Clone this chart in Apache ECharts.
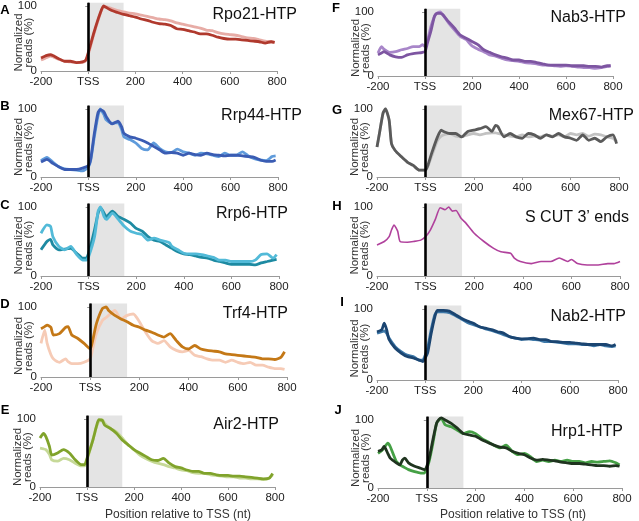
<!DOCTYPE html>
<html><head><meta charset="utf-8">
<script src="https://cdn.jsdelivr.net/npm/echarts@6/dist/echarts.min.js"></script>
<style>html,body{margin:0;padding:0;background:#fff}#c{width:639px;height:521px}</style>
</head><body><div id="c"></div>
<script>
// ---- tick labels ----
const xTickValues = [-200, 0, 200, 400, 600, 800];
const xTickLabels = ['-200', 'TSS', '200', '400', '600', '800'];
const yTickValues = [0, 100];
const shadeRange = [0, 150];
const xAxisTitle = 'Position relative to TSS (nt)';
const yAxisTitle = ['Normalized', 'reads (%)'];

// ---- A: Rpo21-HTP ----
const posA = [-200,-175,-160,-150,-125,-100,-75,-50,-25,-10,0,25,50,65,75,100,125,150,175,200,225,250,275,300,325,350,375,400,425,450,475,500,525,550,575,600,625,650,675,700,725,750,775,790];
const rpo21Dark = [20,24,25,24,19,15,15,13,14,17,28,60,88,100,98,93,90,87,85,83,80,78,75,73,72,70,65,64,62,60,57,57,55,52,50,49,49,48,47,46,45,43,45,44];
const rpo21Light = [17,21,23,22,18,15,14,13,13,16,25,58,87,99,99,96,93,91,89,88,86,84,82,80,79,77,74,72,70,68,66,63,62,59,57,56,55,53,51,50,48,46,45,44];

// ---- B: Rrp44-HTP ----
const posB = [-200,-175,-150,-125,-100,-75,-50,-25,0,10,25,40,50,65,75,100,125,140,150,175,200,225,250,275,300,325,350,375,400,425,450,475,500,525,550,575,600,625,650,675,700,725,750,775,790];
const rrp44Dark = [22,26,20,15,11,11,11,13,17,27,64,94,99,96,89,78,82,74,64,59,57,54,50,45,40,35,36,35,32,35,33,32,35,33,32,31,32,32,31,30,29,25,23,23,25];
const rrp44Light = [24,29,22,15,12,11,10,9,15,25,59,89,100,92,84,79,80,70,59,55,50,42,40,50,42,37,36,41,37,35,32,35,34,32,30,35,32,32,37,31,27,25,24,30,31];

// ---- C: Rrp6-HTP ----
const posC = [-200,-175,-160,-150,-125,-100,-75,-50,-25,-10,0,25,40,50,65,75,100,125,150,175,200,225,250,275,300,325,340,350,375,400,425,450,475,500,525,550,575,600,625,650,675,700,725,750,775,790];
const rrp6Dark = [38,50,53,45,38,39,40,33,26,26,33,67,91,99,91,86,94,86,82,77,69,65,57,52,50,45,42,40,35,32,31,29,27,26,23,21,19,17,17,17,17,16,19,21,23,24];
const rrp6Light = [62,74,72,57,43,38,43,31,23,23,28,57,94,100,86,82,91,82,72,65,62,60,52,55,52,50,48,43,38,33,32,32,31,29,27,23,23,21,21,21,21,23,31,32,26,31];

// ---- D: Trf4-HTP ----
const posD = [-200,-185,-175,-160,-150,-125,-100,-90,-75,-50,-25,0,10,25,50,65,75,100,125,150,175,200,225,250,275,300,325,350,375,400,425,450,475,500,525,550,575,600,625,650,675,700,725,750,775,790];
const trf4Dark = [69,72,74,71,60,62,71,72,60,55,48,40,52,76,98,100,95,88,83,79,74,71,67,64,60,57,62,52,43,40,45,40,38,37,36,33,32,31,30,29,28,26,26,25,28,36];
const trf4Light = [48,67,48,32,26,21,26,22,19,19,21,26,40,62,81,85,88,95,83,88,90,79,64,52,48,52,43,38,36,38,31,29,26,24,24,21,24,21,19,21,17,17,14,12,12,11];

// ---- E: Air2-HTP ----
const posE = [-200,-185,-175,-160,-150,-125,-100,-75,-50,-25,-10,0,25,40,50,65,75,100,125,150,175,200,225,250,275,300,325,350,375,400,425,450,475,500,525,550,575,600,625,650,675,700,725,750,775,790];
const air2Dark = [72,79,74,60,47,50,55,50,40,33,33,42,69,89,99,98,91,86,79,69,62,55,50,45,40,39,42,35,30,28,25,23,23,20,20,18,17,17,16,16,15,14,13,12,13,20];
const air2Light = [57,56,55,48,40,38,42,40,35,31,31,40,69,88,96,99,94,86,81,72,62,55,47,42,38,35,33,30,28,25,24,21,20,20,18,17,16,15,15,13,13,12,12,11,13,18];

// ---- F: Nab3-HTP ----
const posF = [-200,-185,-175,-150,-125,-100,-75,-50,-25,-10,0,10,25,40,50,65,75,100,125,150,175,200,225,250,275,300,325,350,375,400,425,450,475,500,525,550,575,600,625,650,675,700,725,750,775,790];
const nab3Dark = [33,36,38,33,30,29,33,35,36,37,38,51,70,93,98,98,96,85,75,64,59,54,49,41,37,33,30,28,25,25,23,23,21,19,17,17,17,17,16,16,16,15,15,14,16,16];
const nab3Light = [36,46,42,37,38,41,43,46,46,49,46,55,77,93,98,100,96,83,72,62,57,47,42,38,33,31,28,25,24,23,21,20,19,17,17,16,15,16,15,14,13,13,12,13,15,16];

// ---- G: Mex67-HTP ----
const posG = [-200,-190,-175,-165,-150,-140,-125,-100,-75,-50,-25,0,10,25,50,65,75,100,125,150,175,200,225,250,275,290,300,325,350,375,400,425,450,475,500,525,550,575,600,625,650,675,700,725,750,775,790];
const mex67Dark = [44,64,94,100,84,49,39,30,22,17,10,10,17,34,59,69,67,64,64,59,67,69,71,74,67,76,74,59,64,59,57,64,62,57,62,59,64,59,57,54,62,54,57,52,59,62,49];
const mex67Light = [44,64,94,100,84,49,39,30,22,17,10,10,15,30,54,60,62,64,60,59,62,64,62,64,65,65,64,62,60,59,62,59,60,59,62,60,62,59,64,62,64,60,63,62,59,57,52];

// ---- H: S CUT 3' ends ----
const posH = [-200,-170,-150,-140,-130,-115,-105,-75,-50,-20,0,20,40,60,80,95,110,125,145,165,200,240,280,310,350,365,390,435,475,515,550,585,600,625,665,710,750,775,800];
const scutEnds = [45,50,57,67,74,65,50,49,50,52,57,67,82,99,96,100,94,95,84,77,62,50,40,35,33,26,21,18,21,21,26,21,24,18,16,16,18,18,21];

// ---- I: Nab2-HTP ----
const posI = [-200,-180,-170,-160,-150,-125,-100,-75,-50,-25,-10,0,10,25,40,50,75,100,125,150,175,200,225,250,275,300,325,350,375,400,425,450,475,500,525,550,575,600,625,650,675,700,725,750,775,790];
const nab2Dark = [68,71,80,71,57,45,38,33,31,28,26,31,38,66,89,98,98,97,92,87,83,80,75,73,71,68,66,61,59,58,58,59,57,57,54,54,53,53,52,51,50,50,50,50,48,50];
const nab2Light = [66,68,69,66,59,47,40,35,33,28,28,35,45,71,92,96,96,95,91,86,81,78,75,72,70,67,64,61,59,57,58,57,56,54,54,53,52,51,51,50,50,48,50,48,47,48];

// ---- J: Hrp1-HTP ----
const posJ = [-200,-185,-175,-160,-150,-125,-110,-100,-90,-75,-50,-25,-10,0,10,25,40,50,60,75,100,125,150,175,200,225,250,275,300,325,350,375,400,425,450,475,500,525,550,575,600,625,650,675,700,725,750,775,790];
const hrp1Dark = [54,56,61,51,44,37,34,41,44,37,32,29,27,32,44,71,95,101,103,100,95,88,80,78,76,71,67,63,60,59,54,51,49,44,41,42,41,40,38,37,36,36,35,34,33,33,32,33,32];
const hrp1Light = [51,55,59,66,61,39,34,32,30,27,24,22,22,29,40,66,95,100,102,93,90,85,80,83,80,73,68,63,59,63,54,49,51,46,39,41,39,41,39,41,39,39,37,39,38,39,40,37,34];

// ---- layout (positions/styles only) ----
const panels = [
  {letter:'A', title:'Rpo21-HTP', pos:posA, lines:[[rpo21Light,'#e7aca6'],[rpo21Dark,'#b0392d']], left:41, width:236, y100:6, y0:71, lx:5, ly:10, tx:297, ty:15},
  {letter:'B', title:'Rrp44-HTP', pos:posB, lines:[[rrp44Light,'#5f9bdb'],[rrp44Dark,'#3a5cb3']], left:41, width:237, y100:109, y0:177, lx:5, ly:106, tx:302, ty:116},
  {letter:'C', title:'Rrp6-HTP', pos:posC, lines:[[rrp6Dark,'#1d8aa2'],[rrp6Light,'#52bad8']], left:41, width:238, y100:207, y0:276, lx:5, ly:205, tx:288, ty:214},
  {letter:'D', title:'Trf4-HTP', pos:posD, lines:[[trf4Light,'#f6cbb6'],[trf4Dark,'#c47816']], left:41, width:246, y100:307, y0:377, lx:5, ly:304, tx:288, ty:314},
  {letter:'E', title:'Air2-HTP', pos:posE, lines:[[air2Light,'#c6d998'],[air2Dark,'#80a32b']], left:40, width:235, y100:419, y0:487, lx:5, ly:410, tx:279, ty:425},
  {letter:'F', title:'Nab3-HTP', pos:posF, lines:[[nab3Light,'#a886c9'],[nab3Dark,'#7d55a1']], left:378, width:235, y100:12, y0:76, lx:336, ly:8, tx:626, ty:18},
  {letter:'G', title:'Mex67-HTP', pos:posG, lines:[[mex67Light,'#c2c2c2'],[mex67Dark,'#5a5a5a']], left:377, width:242, y100:109, y0:177, lx:337, ly:110, tx:634, ty:116},
  {letter:'H', title:'S CUT 3\u2019 ends', pos:posH, lines:[[scutEnds,'#b0419c']], lw:1.6, left:377, width:243, y100:207, y0:276, lx:337, ly:206, tx:629, ty:218},
  {letter:'I', title:'Nab2-HTP', pos:posI, lines:[[nab2Light,'#3d78a8'],[nab2Dark,'#1b4571']], left:377, width:241, y100:309, y0:380, lx:342, ly:302, tx:626, ty:317},
  {letter:'J', title:'Hrp1-HTP', pos:posJ, lines:[[hrp1Light,'#45a045'],[hrp1Dark,'#1f341f']], left:378, width:244, y100:420, y0:488, lx:338, ly:410, tx:623, ty:432}
];

const YMAX = 105;
const font = 'Liberation Sans, Arial, sans-serif';
const grid = [], xAxis = [], yAxis = [], series = [], graphic = [];

panels.forEach((p, i) => {
  const h = (p.y0 - p.y100) * YMAX / 100;
  grid.push({left: p.left, width: p.width, top: p.y0 - h, height: h, containLabel: false});
  xAxis.push({
    type: 'value', gridIndex: i, min: -200, max: 800, interval: 200,
    axisLine: {show: true, lineStyle: {color: '#9a9a9a', width: 1}},
    axisTick: {show: true, length: 3, lineStyle: {color: '#9a9a9a'}},
    splitLine: {show: false},
    axisLabel: {
      margin: 5, fontSize: 11.5, color: '#222', fontFamily: font,
      formatter: v => { const k = xTickValues.indexOf(v); return k >= 0 ? xTickLabels[k] : ''; }
    }
  });
  yAxis.push({
    type: 'value', gridIndex: i, min: 0, max: YMAX, interval: 100,
    axisLine: {show: true, lineStyle: {color: '#9a9a9a', width: 1}},
    axisTick: {show: true, length: 3, lineStyle: {color: '#9a9a9a'}, customValues: yTickValues},
    splitLine: {show: false},
    axisLabel: {
      margin: 4, fontSize: 11.5, color: '#222', fontFamily: font, customValues: yTickValues,
      formatter: v => (yTickValues.indexOf(v) >= 0 ? String(v) : '')
    }
  });
  // shaded window
  series.push({
    type: 'line', xAxisIndex: i, yAxisIndex: i, data: [], z: 1, silent: true,
    markArea: {silent: true, itemStyle: {color: '#e4e4e4'},
      data: [[{xAxis: shadeRange[0], yAxis: 0}, {xAxis: shadeRange[1], yAxis: YMAX}]]}
  });
  p.lines.forEach(([vals, color]) => {
    series.push({
      type: 'line', xAxisIndex: i, yAxisIndex: i, z: 2, clip: false,
      data: p.pos.map((x, k) => [x, vals[k]]),
      showSymbol: false, smooth: 0.2,
      lineStyle: {color: color, width: p.lw || 2.8}
    });
  });
  // TSS line
  series.push({
    type: 'line', xAxisIndex: i, yAxisIndex: i, data: [], z: 3, silent: true,
    markLine: {silent: true, symbol: 'none', label: {show: false},
      lineStyle: {color: '#000', width: 2.6, type: 'solid'},
      data: [{xAxis: 0}]}
  });
  // texts
  graphic.push({type: 'text', x: p.lx, y: p.ly, style: {text: p.letter, font: 'bold 13px ' + font, fill: '#000', align: 'center', verticalAlign: 'middle'}});
  graphic.push({type: 'text', x: p.tx, y: p.ty, style: {text: p.title, font: '16px ' + font, fill: '#111', align: 'right', verticalAlign: 'middle'}});
  const cy = (p.y100 + p.y0) / 2 + 4;
  const nx = p.left - 22;
  graphic.push({type: 'text', x: nx, y: cy, rotation: Math.PI / 2, style: {text: yAxisTitle[0], font: '11.5px ' + font, fill: '#333', align: 'center', verticalAlign: 'middle'}});
  graphic.push({type: 'text', x: nx + 10, y: cy, rotation: Math.PI / 2, style: {text: yAxisTitle[1], font: '11.5px ' + font, fill: '#333', align: 'center', verticalAlign: 'middle'}});
});

graphic.push({type: 'text', x: 178, y: 515, style: {text: xAxisTitle, font: '12px ' + font, fill: '#333', align: 'center', verticalAlign: 'middle'}});
graphic.push({type: 'text', x: 513, y: 515, style: {text: xAxisTitle, font: '12px ' + font, fill: '#333', align: 'center', verticalAlign: 'middle'}});

const chart = echarts.init(document.getElementById('c'), null, {renderer: 'canvas'});
chart.setOption({animation: false, backgroundColor: '#fff', grid, xAxis, yAxis, series, graphic});
</script>
</body></html>
